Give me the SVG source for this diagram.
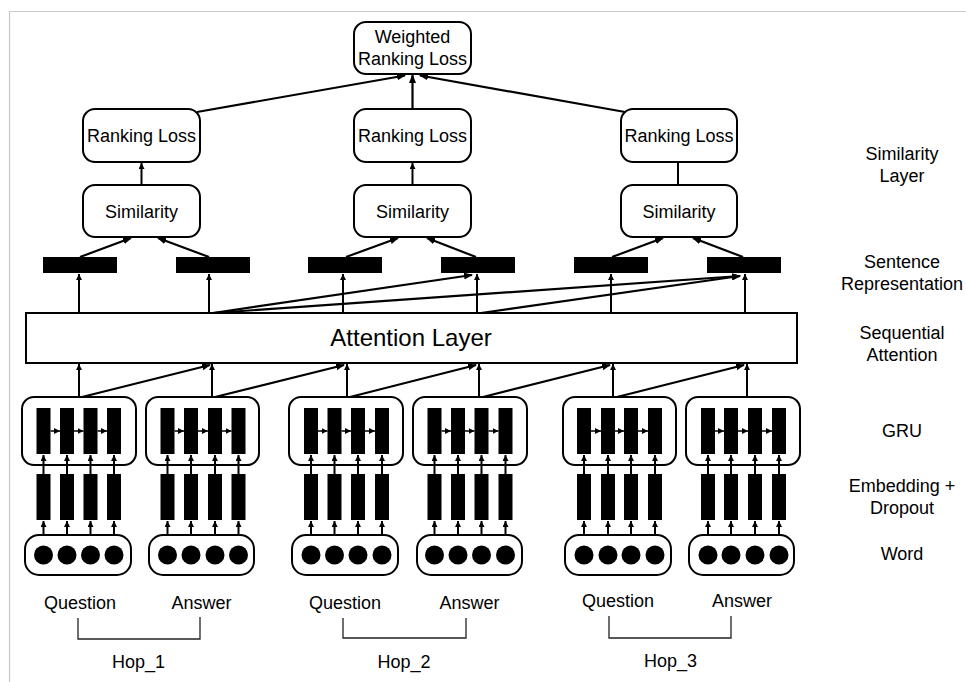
<svg xmlns="http://www.w3.org/2000/svg" width="966" height="682" viewBox="0 0 966 682">
<style>
text{font-family:"Liberation Sans",Arial,sans-serif;font-size:18px;fill:#000;text-anchor:middle}
.box{fill:#fff;stroke:#000;stroke-width:2}
.bar{fill:#000}
.c{stroke:#000;stroke-width:2.2;fill:none}
.s{stroke:#000;stroke-width:2;fill:none}
.t{stroke:#000;stroke-width:1.5;fill:none}
.br{stroke:#222;stroke-width:1.3;fill:none}
</style>
<defs>
<marker id="ah" markerWidth="9" markerHeight="8" refX="8" refY="4" orient="auto" markerUnits="userSpaceOnUse"><path d="M0,0.5 L9,4 L0,7.5 z" fill="#000"/></marker>
<marker id="as" markerWidth="6" markerHeight="6" refX="6" refY="3" orient="auto" markerUnits="userSpaceOnUse"><path d="M0,0 L6,3 L0,6 z" fill="#000"/></marker>
</defs>
<rect width="966" height="682" fill="#fff"/>
<path d="M9.5,682 V11.5 H966" stroke="#c8c8c8" stroke-width="1.2" fill="none"/>

<g id="weighted-loss"><rect class="box" x="354" y="22" width="117" height="52" rx="12"/><text x="412.5" y="42.5">Weighted</text><text x="412.5" y="65">Ranking Loss</text></g>
<g id="ranking-loss-1"><rect class="box" x="83" y="109" width="117" height="53" rx="12"/><text x="141.5" y="142">Ranking Loss</text></g>
<g id="ranking-loss-2"><rect class="box" x="354" y="109" width="117" height="53" rx="12"/><text x="412.5" y="142">Ranking Loss</text></g>
<g id="ranking-loss-3"><rect class="box" x="621" y="109" width="116" height="53" rx="12"/><text x="679" y="142">Ranking Loss</text></g>
<g id="similarity-1"><rect class="box" x="83" y="185" width="117" height="52" rx="12"/><text x="141.5" y="218">Similarity</text></g>
<g id="similarity-2"><rect class="box" x="354" y="185" width="117" height="52" rx="12"/><text x="412.5" y="218">Similarity</text></g>
<g id="similarity-3"><rect class="box" x="621" y="185" width="116" height="52" rx="12"/><text x="679" y="218">Similarity</text></g>

<g id="sentence-reps">
<rect class="bar" x="43" y="257" width="74" height="16"/>
<rect class="bar" x="176" y="257" width="74" height="16"/>
<rect class="bar" x="308" y="257" width="74" height="16"/>
<rect class="bar" x="441" y="257" width="74" height="16"/>
<rect class="bar" x="574" y="257" width="74" height="16"/>
<rect class="bar" x="707" y="257" width="74" height="16"/>
</g>

<g id="attention-layer"><rect class="box" x="26" y="313" width="771" height="50"/><text x="411" y="346" style="font-size:24px">Attention Layer</text></g>

<g id="gru-1"><rect class="box" x="22" y="397" width="114" height="68" rx="12"/><rect class="bar" x="36.5" y="408" width="14" height="46"/><rect class="bar" x="60" y="408" width="14" height="46"/><rect class="bar" x="83.5" y="408" width="14" height="46"/><rect class="bar" x="107" y="408" width="14" height="46"/></g>
<g id="gru-2"><rect class="box" x="146" y="397" width="113" height="68" rx="12"/><rect class="bar" x="160.5" y="408" width="14" height="46"/><rect class="bar" x="184" y="408" width="14" height="46"/><rect class="bar" x="208" y="408" width="14" height="46"/><rect class="bar" x="231.5" y="408" width="14" height="46"/></g>
<g id="gru-3"><rect class="box" x="289" y="397" width="114" height="68" rx="12"/><rect class="bar" x="304" y="408" width="14" height="46"/><rect class="bar" x="327.5" y="408" width="14" height="46"/><rect class="bar" x="351" y="408" width="14" height="46"/><rect class="bar" x="375" y="408" width="14" height="46"/></g>
<g id="gru-4"><rect class="box" x="413" y="397" width="114" height="68" rx="12"/><rect class="bar" x="427.5" y="408" width="14" height="46"/><rect class="bar" x="451" y="408" width="14" height="46"/><rect class="bar" x="474.5" y="408" width="14" height="46"/><rect class="bar" x="498.5" y="408" width="14" height="46"/></g>
<g id="gru-5"><rect class="box" x="563" y="397" width="113" height="68" rx="12"/><rect class="bar" x="577" y="408" width="14" height="46"/><rect class="bar" x="601" y="408" width="14" height="46"/><rect class="bar" x="624" y="408" width="14" height="46"/><rect class="bar" x="648" y="408" width="14" height="46"/></g>
<g id="gru-6"><rect class="box" x="686" y="397" width="114" height="68" rx="12"/><rect class="bar" x="701" y="408" width="14" height="46"/><rect class="bar" x="724" y="408" width="14" height="46"/><rect class="bar" x="748" y="408" width="14" height="46"/><rect class="bar" x="772" y="408" width="14" height="46"/></g>

<g id="embeddings">
<rect class="bar" x="36.5" y="474" width="14" height="46"/><rect class="bar" x="60" y="474" width="14" height="46"/><rect class="bar" x="83.5" y="474" width="14" height="46"/><rect class="bar" x="107" y="474" width="14" height="46"/>
<rect class="bar" x="160.5" y="474" width="14" height="46"/><rect class="bar" x="184" y="474" width="14" height="46"/><rect class="bar" x="208" y="474" width="14" height="46"/><rect class="bar" x="231.5" y="474" width="14" height="46"/>
<rect class="bar" x="304" y="474" width="14" height="46"/><rect class="bar" x="327.5" y="474" width="14" height="46"/><rect class="bar" x="351" y="474" width="14" height="46"/><rect class="bar" x="375" y="474" width="14" height="46"/>
<rect class="bar" x="427.5" y="474" width="14" height="46"/><rect class="bar" x="451" y="474" width="14" height="46"/><rect class="bar" x="474.5" y="474" width="14" height="46"/><rect class="bar" x="498.5" y="474" width="14" height="46"/>
<rect class="bar" x="577" y="474" width="14" height="46"/><rect class="bar" x="601" y="474" width="14" height="46"/><rect class="bar" x="624" y="474" width="14" height="46"/><rect class="bar" x="648" y="474" width="14" height="46"/>
<rect class="bar" x="701" y="474" width="14" height="46"/><rect class="bar" x="724" y="474" width="14" height="46"/><rect class="bar" x="748" y="474" width="14" height="46"/><rect class="bar" x="772" y="474" width="14" height="46"/>
</g>

<g id="word-1"><rect class="box" x="25" y="535" width="106" height="40" rx="14"/><circle cx="43.5" cy="555" r="9.5"/><circle cx="67" cy="555" r="9.5"/><circle cx="90.5" cy="555" r="9.5"/><circle cx="114" cy="555" r="9.5"/></g>
<g id="word-2"><rect class="box" x="149" y="535" width="105" height="40" rx="14"/><circle cx="167.5" cy="555" r="9.5"/><circle cx="191" cy="555" r="9.5"/><circle cx="215" cy="555" r="9.5"/><circle cx="238.5" cy="555" r="9.5"/></g>
<g id="word-3"><rect class="box" x="292" y="535" width="106" height="40" rx="14"/><circle cx="311" cy="555" r="9.5"/><circle cx="334.5" cy="555" r="9.5"/><circle cx="358" cy="555" r="9.5"/><circle cx="382" cy="555" r="9.5"/></g>
<g id="word-4"><rect class="box" x="417" y="535" width="105" height="40" rx="14"/><circle cx="434.5" cy="555" r="9.5"/><circle cx="458" cy="555" r="9.5"/><circle cx="481.5" cy="555" r="9.5"/><circle cx="505.5" cy="555" r="9.5"/></g>
<g id="word-5"><rect class="box" x="565" y="535" width="106" height="40" rx="14"/><circle cx="584" cy="555" r="9.5"/><circle cx="608" cy="555" r="9.5"/><circle cx="631" cy="555" r="9.5"/><circle cx="655" cy="555" r="9.5"/></g>
<g id="word-6"><rect class="box" x="689" y="535" width="105" height="40" rx="14"/><circle cx="708" cy="555" r="9.5"/><circle cx="731" cy="555" r="9.5"/><circle cx="755" cy="555" r="9.5"/><circle cx="779" cy="555" r="9.5"/></g>

<g id="connectors">
<!-- to weighted loss -->
<line class="c" x1="197" y1="112" x2="405" y2="75.5" marker-end="url(#ah)"/>
<line class="c" x1="412.5" y1="109" x2="412.5" y2="75" marker-end="url(#ah)"/>
<line class="c" x1="625" y1="112" x2="420" y2="75.5" marker-end="url(#ah)"/>
<!-- similarity to ranking -->
<line class="s" x1="141.5" y1="185" x2="141.5" y2="163" marker-end="url(#as)"/>
<line class="s" x1="412.5" y1="185" x2="412.5" y2="163" marker-end="url(#as)"/>
<line class="s" x1="678" y1="185" x2="678" y2="162"/>
<!-- bars to similarity -->
<line class="c" x1="80" y1="257" x2="131" y2="238" marker-end="url(#ah)"/>
<line class="c" x1="209" y1="257" x2="158" y2="238" marker-end="url(#ah)"/>
<line class="c" x1="346" y1="257" x2="398" y2="238" marker-end="url(#ah)"/>
<line class="c" x1="476" y1="257" x2="427" y2="238" marker-end="url(#ah)"/>
<line class="c" x1="612" y1="257" x2="663" y2="238" marker-end="url(#ah)"/>
<line class="c" x1="743" y1="257" x2="693" y2="238" marker-end="url(#ah)"/>
<!-- attention to bars -->
<line class="s" x1="79" y1="313" x2="79" y2="274" marker-end="url(#as)"/>
<line class="s" x1="209" y1="313" x2="209" y2="274" marker-end="url(#as)"/>
<line class="s" x1="343" y1="313" x2="343" y2="274" marker-end="url(#as)"/>
<line class="s" x1="477" y1="313" x2="477" y2="274" marker-end="url(#as)"/>
<line class="s" x1="611" y1="313" x2="611" y2="274" marker-end="url(#as)"/>
<line class="s" x1="745" y1="313" x2="745" y2="274" marker-end="url(#as)"/>
<line class="c" x1="213" y1="313" x2="472" y2="275" marker-end="url(#ah)"/>
<line class="c" x1="213" y1="313" x2="740" y2="276" marker-end="url(#ah)"/>
<line class="c" x1="481" y1="313" x2="740" y2="276" marker-end="url(#ah)"/>
<!-- gru to attention -->
<line class="s" x1="79" y1="397" x2="79" y2="364" marker-end="url(#as)"/>
<line class="s" x1="212" y1="397" x2="212" y2="364" marker-end="url(#as)"/>
<line class="s" x1="347" y1="397" x2="347" y2="364" marker-end="url(#as)"/>
<line class="s" x1="479" y1="397" x2="479" y2="364" marker-end="url(#as)"/>
<line class="s" x1="613" y1="397" x2="613" y2="364" marker-end="url(#as)"/>
<line class="s" x1="747" y1="397" x2="747" y2="364" marker-end="url(#as)"/>
<line class="c" x1="82" y1="397" x2="210" y2="365" marker-end="url(#ah)"/>
<line class="c" x1="215" y1="397" x2="344" y2="365" marker-end="url(#ah)"/>
<line class="c" x1="350" y1="397" x2="476" y2="365" marker-end="url(#ah)"/>
<line class="c" x1="483" y1="397" x2="610" y2="365" marker-end="url(#ah)"/>
<line class="c" x1="617" y1="397" x2="744" y2="365" marker-end="url(#ah)"/>
<!-- gru recurrent arrows -->
<g class="t">
<line x1="50.5" y1="431" x2="60" y2="431" marker-end="url(#as)"/><line x1="74" y1="431" x2="83.5" y2="431" marker-end="url(#as)"/><line x1="97.5" y1="431" x2="107" y2="431" marker-end="url(#as)"/>
<line x1="174.5" y1="431" x2="184" y2="431" marker-end="url(#as)"/><line x1="198" y1="431" x2="208" y2="431" marker-end="url(#as)"/><line x1="222" y1="431" x2="231.5" y2="431" marker-end="url(#as)"/>
<line x1="318" y1="431" x2="327.5" y2="431" marker-end="url(#as)"/><line x1="341.5" y1="431" x2="351" y2="431" marker-end="url(#as)"/><line x1="365" y1="431" x2="375" y2="431" marker-end="url(#as)"/>
<line x1="441.5" y1="431" x2="451" y2="431" marker-end="url(#as)"/><line x1="465" y1="431" x2="474.5" y2="431" marker-end="url(#as)"/><line x1="488.5" y1="431" x2="498.5" y2="431" marker-end="url(#as)"/>
<line x1="591" y1="431" x2="601" y2="431" marker-end="url(#as)"/><line x1="615" y1="431" x2="624" y2="431" marker-end="url(#as)"/><line x1="638" y1="431" x2="648" y2="431" marker-end="url(#as)"/>
<line x1="715" y1="431" x2="724" y2="431" marker-end="url(#as)"/><line x1="738" y1="431" x2="748" y2="431" marker-end="url(#as)"/><line x1="762" y1="431" x2="772" y2="431" marker-end="url(#as)"/>
</g>
<!-- embedding to gru, word to embedding -->
<g class="s">
<line x1="43.5" y1="474" x2="43.5" y2="455" marker-end="url(#as)"/><line x1="67" y1="474" x2="67" y2="455" marker-end="url(#as)"/><line x1="90.5" y1="474" x2="90.5" y2="455" marker-end="url(#as)"/><line x1="114" y1="474" x2="114" y2="455" marker-end="url(#as)"/>
<line x1="167.5" y1="474" x2="167.5" y2="455" marker-end="url(#as)"/><line x1="191" y1="474" x2="191" y2="455" marker-end="url(#as)"/><line x1="215" y1="474" x2="215" y2="455" marker-end="url(#as)"/><line x1="238.5" y1="474" x2="238.5" y2="455" marker-end="url(#as)"/>
<line x1="311" y1="474" x2="311" y2="455" marker-end="url(#as)"/><line x1="334.5" y1="474" x2="334.5" y2="455" marker-end="url(#as)"/><line x1="358" y1="474" x2="358" y2="455" marker-end="url(#as)"/><line x1="382" y1="474" x2="382" y2="455" marker-end="url(#as)"/>
<line x1="434.5" y1="474" x2="434.5" y2="455" marker-end="url(#as)"/><line x1="458" y1="474" x2="458" y2="455" marker-end="url(#as)"/><line x1="481.5" y1="474" x2="481.5" y2="455" marker-end="url(#as)"/><line x1="505.5" y1="474" x2="505.5" y2="455" marker-end="url(#as)"/>
<line x1="584" y1="474" x2="584" y2="455" marker-end="url(#as)"/><line x1="608" y1="474" x2="608" y2="455" marker-end="url(#as)"/><line x1="631" y1="474" x2="631" y2="455" marker-end="url(#as)"/><line x1="655" y1="474" x2="655" y2="455" marker-end="url(#as)"/>
<line x1="708" y1="474" x2="708" y2="455" marker-end="url(#as)"/><line x1="731" y1="474" x2="731" y2="455" marker-end="url(#as)"/><line x1="755" y1="474" x2="755" y2="455" marker-end="url(#as)"/><line x1="779" y1="474" x2="779" y2="455" marker-end="url(#as)"/>
<line x1="43.5" y1="535" x2="43.5" y2="521" marker-end="url(#as)"/><line x1="67" y1="535" x2="67" y2="521" marker-end="url(#as)"/><line x1="90.5" y1="535" x2="90.5" y2="521" marker-end="url(#as)"/><line x1="114" y1="535" x2="114" y2="521" marker-end="url(#as)"/>
<line x1="167.5" y1="535" x2="167.5" y2="521" marker-end="url(#as)"/><line x1="191" y1="535" x2="191" y2="521" marker-end="url(#as)"/><line x1="215" y1="535" x2="215" y2="521" marker-end="url(#as)"/><line x1="238.5" y1="535" x2="238.5" y2="521" marker-end="url(#as)"/>
<line x1="311" y1="535" x2="311" y2="521" marker-end="url(#as)"/><line x1="334.5" y1="535" x2="334.5" y2="521" marker-end="url(#as)"/><line x1="358" y1="535" x2="358" y2="521" marker-end="url(#as)"/><line x1="382" y1="535" x2="382" y2="521" marker-end="url(#as)"/>
<line x1="434.5" y1="535" x2="434.5" y2="521" marker-end="url(#as)"/><line x1="458" y1="535" x2="458" y2="521" marker-end="url(#as)"/><line x1="481.5" y1="535" x2="481.5" y2="521" marker-end="url(#as)"/><line x1="505.5" y1="535" x2="505.5" y2="521" marker-end="url(#as)"/>
<line x1="584" y1="535" x2="584" y2="521" marker-end="url(#as)"/><line x1="608" y1="535" x2="608" y2="521" marker-end="url(#as)"/><line x1="631" y1="535" x2="631" y2="521" marker-end="url(#as)"/><line x1="655" y1="535" x2="655" y2="521" marker-end="url(#as)"/>
<line x1="708" y1="535" x2="708" y2="521" marker-end="url(#as)"/><line x1="731" y1="535" x2="731" y2="521" marker-end="url(#as)"/><line x1="755" y1="535" x2="755" y2="521" marker-end="url(#as)"/><line x1="779" y1="535" x2="779" y2="521" marker-end="url(#as)"/>
</g>
<!-- hop brackets -->
<path class="br" d="M78,618 V639 H200 V617"/>
<path class="br" d="M343,618 V638 H466 V618"/>
<path class="br" d="M609,616 V638 H731 V616"/>
</g>

<g id="layer-labels">
<text x="902" y="160">Similarity</text><text x="902" y="182">Layer</text>
<text x="902" y="268">Sentence</text><text x="902" y="290">Representation</text>
<text x="902" y="339">Sequential</text><text x="902" y="361">Attention</text>
<text x="902" y="437">GRU</text>
<text x="902" y="492">Embedding +</text><text x="902" y="514">Dropout</text>
<text x="902" y="560">Word</text>
</g>
<g id="bottom-labels">
<text x="80" y="609">Question</text><text x="201.5" y="609">Answer</text>
<text x="345" y="609">Question</text><text x="469.5" y="609">Answer</text>
<text x="618" y="607">Question</text><text x="742" y="607">Answer</text>
<text x="138.5" y="668">Hop_1</text><text x="404" y="668">Hop_2</text><text x="670.5" y="667">Hop_3</text>
</g>
</svg>
